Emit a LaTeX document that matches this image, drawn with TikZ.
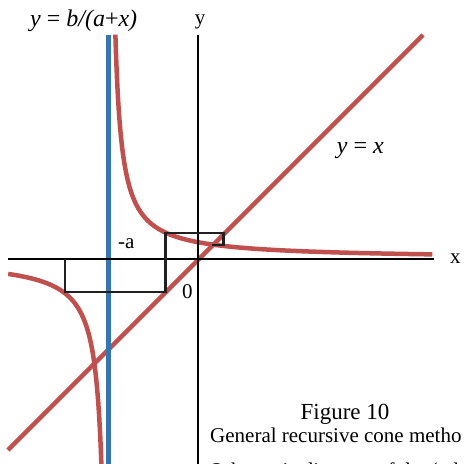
\documentclass[tikz,border=0pt]{standalone}
\usepackage{fontspec}
\setmainfont{Liberation Serif}

\definecolor{curvered}{RGB}{192,80,77}
\definecolor{asymblue}{RGB}{54,117,176}
\definecolor{boxblack}{RGB}{35,31,32}

\begin{document}
\begin{tikzpicture}[
                x=1pt,
                y=1pt,
                line join=round,
                axisline/.style={line width=2pt, black},
                redline/.style={line width=4.5pt, curvered},
                lbl/.style={inner sep=0pt, font=\fontsize{21}{25}\selectfont},
                mathlbl/.style={inner sep=0pt, font=\fontsize{24}{28}\selectfont\itshape}
            ]

            \useasboundingbox (-198,-204) rectangle (267,259);
            \clip (-198,-204) rectangle (267,259);

            \draw[redline] (-190,-191) -- (225,224);

            \draw[redline]
            plot[domain=1.9:5.78, samples=160, variable=\s]
            ({exp(\s)-89.3}, {1500/exp(\s)});

            \draw[redline]
            plot[domain=1.9:4.612, samples=160, variable=\s]
            ({-exp(\s)-89.3}, {-1500/exp(\s)});

            \draw[line width=5pt, asymblue] (-89.3,224) -- (-89.3,-210);

            \draw[axisline] (-190,0) -- (236,0);
            \draw[axisline] (0,224) -- (0,-210);

            \draw[line width=2.5pt, boxblack, line join=miter]
            (-133,0) -- (-133,-33) -- (-32.3,-33) -- (-32.3,26)
            -- (25.3,26) -- (25.3,14) -- (13.7,14);

            \node[mathlbl, anchor=base west] (hyp) at (-168,232.3) {y \textup{=} b/(a\textup{+}x)};
            \node[lbl, anchor=base] (ylab) at (2,234) {y};
            \node[mathlbl, anchor=base west] (diag) at (138.7,105.7) {y \textup{=} x};
            \node[lbl, anchor=base west] (xlab) at (252,-4.3) {x};
            \node[lbl, anchor=base west] (minusa) at (-80,10.7) {-a};
            \node[lbl, anchor=base west] (zero) at (-16,-39.3) {0};

            \node[lbl, font=\fontsize{23}{27}\selectfont, anchor=base] (fig) at (147,-160) {Figure 10};
            \node[lbl, anchor=base west] (capa) at (12,-183.7) {General recursive cone metho};
            \node[lbl, anchor=base west] (capb) at (12,-218) {Schematic diagram of the (ud};

        \end{tikzpicture}
\end{document}
